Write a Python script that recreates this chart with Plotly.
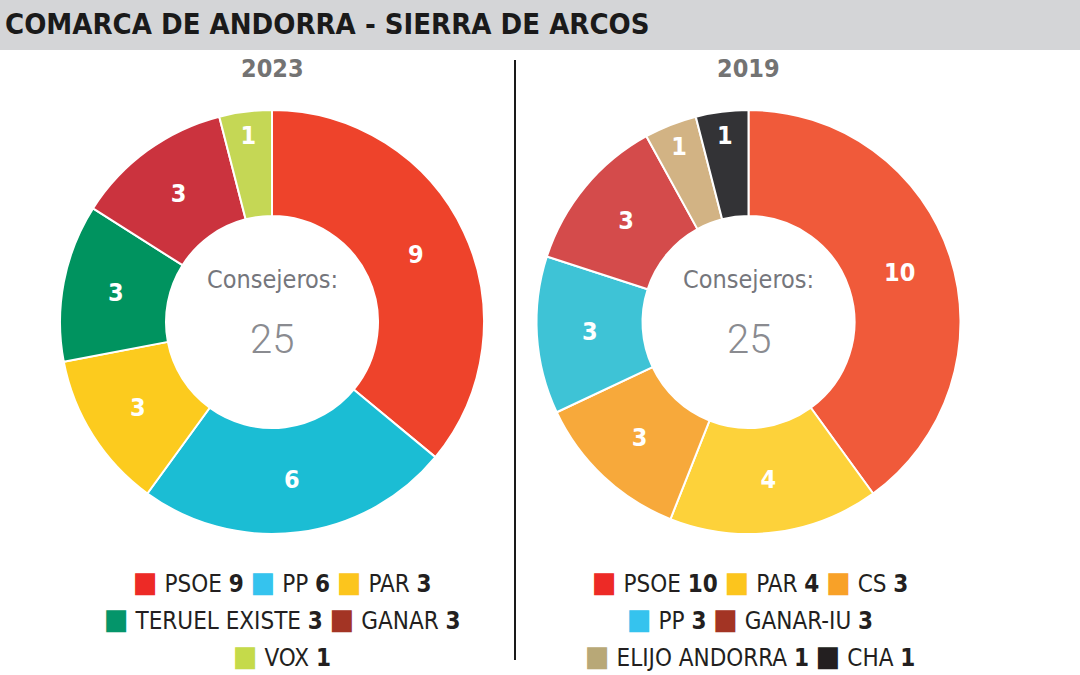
import plotly.graph_objects as go

# ---- data ----
parties_2023 = ["PSOE", "PP", "PAR", "TERUEL EXISTE", "GANAR", "VOX"]
seats_2023 = [9, 6, 3, 3, 3, 1]
slice_colors_2023 = ["#EE432B", "#1BBDD4", "#FCCB1E", "#00935F", "#CB333E", "#C5D755"]
legend_colors_2023 = ["#ED2A26", "#35C3EE", "#FCC51D", "#04956A", "#A33424", "#C5DA4A"]
legend_rows_2023 = [[0, 1, 2], [3, 4], [5]]

parties_2019 = ["PSOE", "PAR", "CS", "PP", "GANAR-IU", "ELIJO ANDORRA", "CHA"]
seats_2019 = [10, 4, 3, 3, 3, 1, 1]
slice_colors_2019 = ["#F05A3A", "#FDD23A", "#F7A93B", "#3EC3D6", "#D44B4B", "#D2B384", "#333336"]
legend_colors_2019 = ["#ED2A26", "#FCC51D", "#F8A128", "#35C3EE", "#A33424", "#B8A877", "#231F20"]
legend_rows_2019 = [[0, 1, 2], [3, 4], [5, 6]]

years = ["2023", "2019"]
center_label = "Consejeros:"
title = "COMARCA DE ANDORRA - SIERRA DE ARCOS"

FONT = "DejaVu Sans Condensed, Liberation Sans Narrow, Roboto, sans-serif"
W, H = 1080, 675

fig = go.Figure()

def px_x(x):
    return x / W

def px_y(y):
    return 1 - y / H

def note(x, y, text, size, color, family=FONT, xanchor="center"):
    fig.add_annotation(x=px_x(x), y=px_y(y), xref="paper", yref="paper",
                       xanchor=xanchor, yanchor="middle", text=text, showarrow=False,
                       borderpad=0, font=dict(size=size, color=color, family=family))

panels = [
    (parties_2023, seats_2023, slice_colors_2023, legend_colors_2023, legend_rows_2023, 272, years[0], 282),
    (parties_2019, seats_2019, slice_colors_2019, legend_colors_2019, legend_rows_2019, 748.5, years[1], 750),
]
cy, r = 322, 212

for parties, seats, scol, lcol, rows, cx, yr, lx in panels:
    fig.add_trace(go.Pie(
        labels=parties, values=seats, sort=False, direction="clockwise", rotation=0,
        hole=0.5, marker=dict(colors=scol, line=dict(color="white", width=2)),
        text=[str(s) for s in seats], textinfo="text", textposition="inside",
        insidetextorientation="horizontal",
        insidetextfont=dict(color="white", size=25, family=FONT),
        texttemplate="<b>%{text}</b>",
        domain=dict(x=[px_x(cx - r), px_x(cx + r)], y=[px_y(cy + r), px_y(cy - r)]),
        showlegend=False, hoverinfo="label+value",
    ))
    total = sum(seats)
    note(cx, cy - 42, center_label, 25, "#75767C")
    note(cx, cy + 18, str(total), 40, "#8A8B90", family="Roboto Light, Roboto, " + FONT)
    note(cx, 68, "<b>" + yr + "</b>", 25, "#737373")
    for i, row in enumerate(rows):
        parts = []
        for k in row:
            parts.append(
                f"<span style='color:{lcol[k]};font-size:29px'>■</span> {parties[k]} <b>{seats[k]}</b>")
        note(lx, 582 + i * 37, " ".join(parts), 24, "#231F20")

# title bar
fig.add_shape(type="rect", xref="paper", yref="paper", x0=0, x1=1, y0=px_y(50), y1=1,
              fillcolor="#D4D5D7", line=dict(width=0), layer="below")
note(4, 24, "<b>" + title + "</b>", 29, "#1A1A1A", xanchor="left")
# divider
fig.add_shape(type="line", xref="paper", yref="paper", x0=px_x(515), x1=px_x(515),
              y0=px_y(660), y1=px_y(60), line=dict(color="#1A1A1A", width=2))

fig.update_layout(width=W, height=H, margin=dict(l=0, r=0, t=0, b=0),
                  paper_bgcolor="white", plot_bgcolor="white")
fig.write_html("out.html")
